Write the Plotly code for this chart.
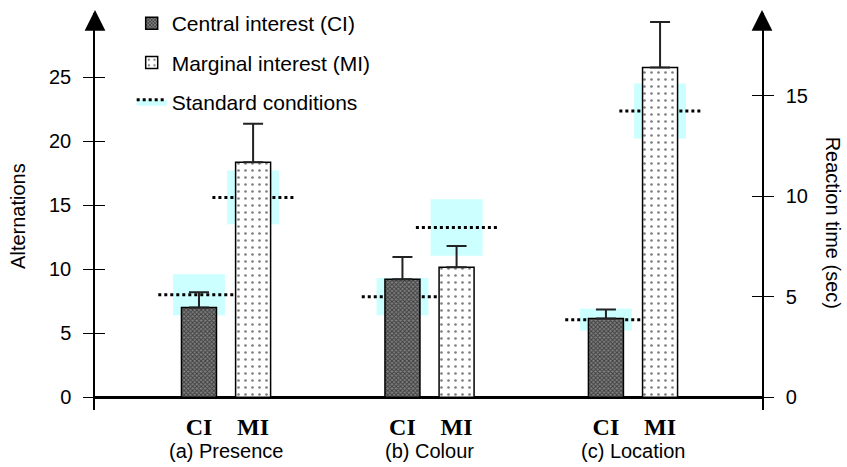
import plotly.graph_objects as go

# Conditions and measured alternations (mean and upper error)
groups = ["(a) Presence", "(b) Colour", "(c) Location"]
ci_mean = [7.0, 9.2, 6.15]
ci_err = [1.2, 1.75, 0.7]
mi_mean = [18.35, 10.15, 25.75]
mi_err = [3.0, 1.65, 3.55]

# Standard-condition reference levels (mean and spread)
std_ci_mean = [8.0, 7.85, 6.05]
std_ci_sd = [1.6, 1.45, 0.85]
std_mi_mean = [15.6, 13.25, 22.35]
std_mi_sd = [2.1, 2.2, 2.15]

left_ticks = [0, 5, 10, 15, 20, 25]
right_ticks = [0, 5, 10, 15]

OFFSET = 0.133      # distance of each bar from its group centre
BAR_W = 0.172
BAND_W = 0.255
DASH_HALF = 0.2
Y_RANGE = [-1.0, 30.0]
RT_SCALE = 0.637    # reaction-time units per alternation unit on the right axis

CYAN = "#ccffff"
FONT = "Liberation Sans, Arial, sans-serif"

gx = list(range(len(groups)))
ci_x = [g - OFFSET for g in gx]
mi_x = [g + OFFSET for g in gx]

fig = go.Figure()

# Shaded spread of the standard conditions
all_x = ci_x + mi_x
all_m = std_ci_mean + std_mi_mean
all_sd = std_ci_sd + std_mi_sd
fig.add_trace(go.Bar(
    x=all_x, y=[2 * s for s in all_sd], base=[m - s for m, s in zip(all_m, all_sd)],
    width=BAND_W, marker=dict(color=CYAN, line=dict(width=0)),
    showlegend=False, hoverinfo="skip", xaxis="x", yaxis="y",
))

# Dotted mean level of the standard conditions
dx, dy = [], []
for xc, m in zip(all_x, all_m):
    dx += [xc - DASH_HALF, xc + DASH_HALF, None]
    dy += [m, m, None]
fig.add_trace(go.Scatter(
    x=dx, y=dy, mode="lines", name="Standard conditions",
    line=dict(color="black", width=3, dash="3px,3px"),
    fill="toself", fillcolor=CYAN, legendrank=3, legendgroup="std",
    xaxis="x", yaxis="y",
))

# Bars (on an overlaid axis so they sit above the reference levels)
fig.add_trace(go.Bar(
    x=ci_x, y=ci_mean, width=BAR_W, name="Central interest (CI)",
    marker=dict(color="white", line=dict(color="black", width=1.5),
                pattern=dict(shape="x", fgcolor="black", bgcolor="#808080",
                             size=3, solidity=0.55)),
    error_y=dict(type="data", array=ci_err, arrayminus=[0] * len(ci_err),
                 symmetric=False, color="#222", thickness=2, width=10),
    legendrank=1, legendgroup="ci", xaxis="x", yaxis="y3",
))
fig.add_trace(go.Bar(
    x=mi_x, y=mi_mean, width=BAR_W, name="Marginal interest (MI)",
    marker=dict(color="white", line=dict(color="black", width=1.5),
                pattern=dict(shape=".", fgcolor="black", bgcolor="white",
                             size=7, solidity=0.12)),
    error_y=dict(type="data", array=mi_err, arrayminus=[0] * len(mi_err),
                 symmetric=False, color="#222", thickness=2, width=10),
    legendrank=2, legendgroup="mi", xaxis="x", yaxis="y3",
))

# Placeholder traces so the right-hand axes are drawn
for ya in ("y2", "y4"):
    fig.add_trace(go.Scatter(x=[None], y=[None], showlegend=False,
                             hoverinfo="skip", xaxis="x", yaxis=ya))

rt_range = [Y_RANGE[0] * RT_SCALE, Y_RANGE[1] * RT_SCALE]
tick_font = dict(family=FONT, size=20, color="black")

fig.update_layout(
    width=847, height=467,
    margin=dict(l=95, r=85, t=13, b=57, autoexpand=False),
    paper_bgcolor="white", plot_bgcolor="white",
    barmode="overlay",
    font=dict(family=FONT, size=20, color="black"),
    xaxis=dict(
        range=[-0.644, 2.634], showgrid=False, zeroline=False, showline=False,
        tickvals=ci_x + mi_x, ticktext=["<b>CI</b>"] * 3 + ["<b>MI</b>"] * 3,
        tickfont=dict(family="Liberation Serif, Times New Roman, serif", size=24, color="black"),
        ticks="", ticklabelstandoff=0,
    ),
    yaxis=dict(
        range=Y_RANGE, showgrid=False, zeroline=True, zerolinecolor="black",
        zerolinewidth=2.5, showline=True, linecolor="black", linewidth=1.5,
        ticks="outside", ticklen=10, tickwidth=1.2, tickcolor="black",
        tickvals=left_ticks, tickfont=tick_font, ticklabelstandoff=8,
    ),
    yaxis3=dict(
        range=Y_RANGE, overlaying="y", showgrid=False, zeroline=False,
        showline=False, ticks="inside", ticklen=10, tickwidth=1.2,
        tickcolor="black", tickvals=left_ticks[1:], showticklabels=False,
    ),
    yaxis2=dict(
        range=rt_range, overlaying="y", side="right", showgrid=False,
        zeroline=False, showline=True, linecolor="black", linewidth=1.5,
        ticks="outside", ticklen=10, tickwidth=1.2, tickcolor="black",
        tickvals=right_ticks, tickfont=tick_font, ticklabelstandoff=8,
    ),
    yaxis4=dict(
        range=rt_range, overlaying="y", side="right", showgrid=False,
        zeroline=False, showline=False, ticks="inside", ticklen=10,
        tickwidth=1.2, tickcolor="black", tickvals=right_ticks,
        showticklabels=False,
    ),
    legend=dict(
        x=0.055, y=1.025, xanchor="left", yanchor="top",
        bgcolor="rgba(0,0,0,0)", font=dict(family=FONT, size=21, color="black"),
        tracegroupgap=9, itemclick=False,
    ),
    showlegend=True,
)

annotations = []
# Group names under the CI/MI labels
for g, name in zip(gx, groups):
    annotations.append(dict(x=g, xref="x", y=0, yref="paper", text=name,
                            showarrow=False, xanchor="center", yanchor="middle",
                            yshift=-41,
                            font=dict(family=FONT, size=20, color="black")))
# Axis titles
annotations.append(dict(x=-0.1154, xref="paper", y=0.489, yref="paper",
                        text="Alternations", textangle=-90, showarrow=False,
                        xanchor="center", yanchor="middle",
                        font=dict(family=FONT, size=20, color="black")))
annotations.append(dict(x=1.107, xref="paper", y=0.471, yref="paper",
                        text="Reaction time (sec)", textangle=90, showarrow=False,
                        xanchor="center", yanchor="middle",
                        font=dict(family=FONT, size=20, color="black")))
# Arrowheads at the top of both vertical axes
for xp in (0, 1):
    annotations.append(dict(x=xp, xref="paper", y=1, yref="paper", yshift=3,
                            ax=0, ay=18, text="", showarrow=True,
                            arrowhead=2, arrowsize=2.3, arrowwidth=1.8,
                            arrowcolor="black"))
fig.update_layout(annotations=annotations)

fig.write_html("out.html")
